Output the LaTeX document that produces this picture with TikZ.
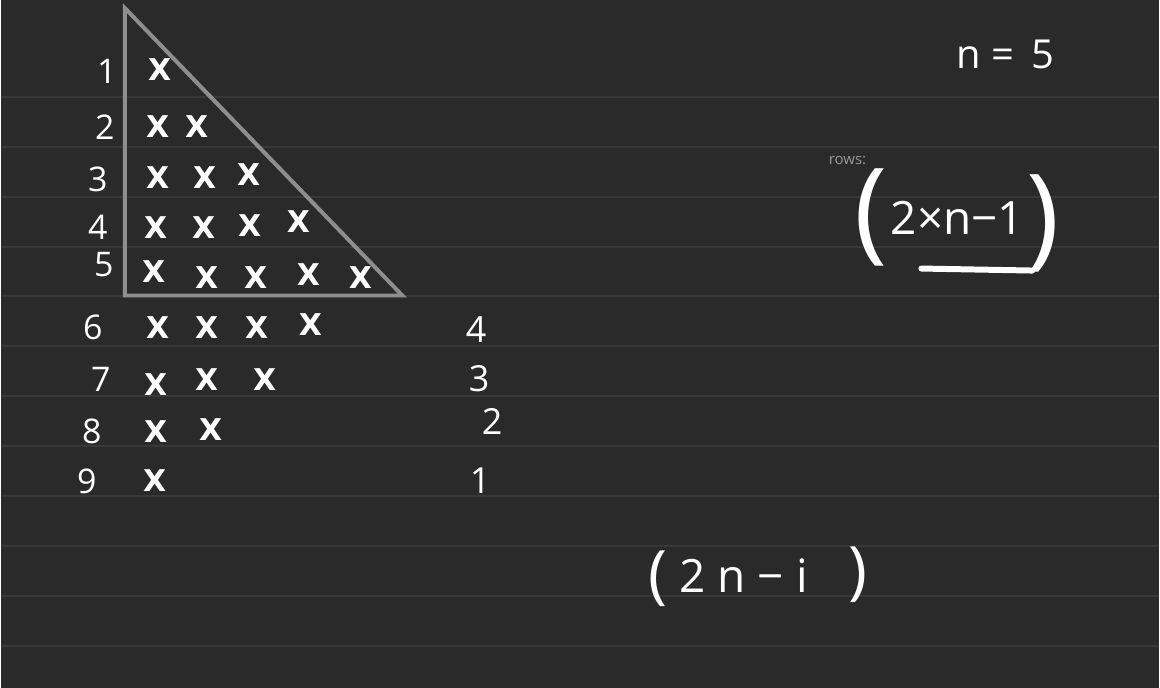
\documentclass[tikz,border=0pt]{standalone}
\usepackage{fontspec}
\setmainfont{Open Sans}
\newfontfamily\markfont{DejaVu Sans}
\definecolor{bg}{HTML}{2A2A2A}
\definecolor{ruled}{HTML}{383838}
\definecolor{tri}{HTML}{8E8E8E}
\definecolor{typed}{HTML}{9A9A9A}
\tikzset{
  xmark/.style={text=white, inner sep=0pt, font=\markfont\fontsize{30}{30}\selectfont\bfseries},
  rowlbl/.style={text=white, inner sep=0pt, font=\fontsize{34}{34}\selectfont},
  cntlbl/.style={text=white, inner sep=0pt, font=\fontsize{36}{36}\selectfont},
  formula/.style={text=white, inner sep=0pt, font=\fontsize{46}{46}\selectfont},
  paren/.style={text=white, inner sep=0pt, font=\fontsize{112}{112}\selectfont},
}
\begin{document}
\begin{tikzpicture}[x=1pt,y=-1pt]
\fill[bg] (0,0) rectangle (1160,689);
\foreach \yy in {97,147,...,647} \draw[ruled, line width=2] (0,\yy) -- (1160,\yy);
% triangle
\draw[tri, line width=4, line join=miter] (124,8) -- (124,296) -- (402,296) -- cycle;
% row labels
\node[rowlbl] (r1) at (106,72) {1};
\node[rowlbl] (r2) at (104,127) {2};
\node[rowlbl] (r3) at (97,180) {3};
\node[rowlbl] (r4) at (97,228) {4};
\node[rowlbl] (r5) at (103,265) {5};
\node[rowlbl] (r6) at (92,328) {6};
\node[rowlbl] (r7) at (100,380) {7};
\node[rowlbl] (r8) at (91,432) {8};
\node[rowlbl] (r9) at (86,482) {9};
% marks
\node[xmark] (x11) at (159,70) {X};
\node[xmark] (x21) at (157,127) {X};
\node[xmark] (x22) at (196,127) {X};
\node[xmark] (x31) at (157,178) {X};
\node[xmark] (x32) at (204,178) {X};
\node[xmark] (x33) at (248,175) {X};
\node[xmark] (x41) at (155,228) {X};
\node[xmark] (x42) at (203,228) {X};
\node[xmark] (x43) at (249,226) {X};
\node[xmark] (x44) at (298,222) {X};
\node[xmark] (x51) at (153,272) {X};
\node[xmark] (x52) at (206,278) {X};
\node[xmark] (x53) at (255,278) {X};
\node[xmark] (x54) at (308,275) {X};
\node[xmark] (x55) at (360,278) {X};
\node[xmark] (x61) at (157,328) {X};
\node[xmark] (x62) at (206,328) {X};
\node[xmark] (x63) at (256,328) {X};
\node[xmark] (x64) at (310,325) {X};
\node[xmark] (x71) at (155,385) {X};
\node[xmark] (x72) at (206,380) {X};
\node[xmark] (x73) at (264,380) {X};
\node[xmark] (x81) at (155,432) {X};
\node[xmark] (x82) at (210,430) {X};
\node[xmark] (x91) at (154,481) {X};
% counts
\node[cntlbl] (c4) at (476,330) {4};
\node[cntlbl] (c3) at (479,379) {3};
\node[cntlbl] (c2) at (492,422) {2};
\node[cntlbl] (c1) at (480,481) {1};
% right side
\node[formula, font=\fontsize{40}{40}\selectfont] (neq) at (1006,55) {n = \,5};
\node[text=typed, inner sep=0pt, font=\fontsize{15}{15}\selectfont] (rows) at (848,161) {rows:};
\node[formula] (f1) at (958,218) {2×n−1};
\node[paren] (f1l) at (872,218) {(};
\node[paren] (f1r) at (1044,224) {)};
\draw[white, line width=6, line cap=round] (922,269) -- (1033,271);
\node[formula] (f2) at (744,577) {2 n − i};
\node[formula, font=\fontsize{64}{64}\selectfont] (f2l) at (658,580) {(};
\node[formula, font=\fontsize{64}{64}\selectfont] (f2r) at (858,576) {)};
\end{tikzpicture}
\end{document}
